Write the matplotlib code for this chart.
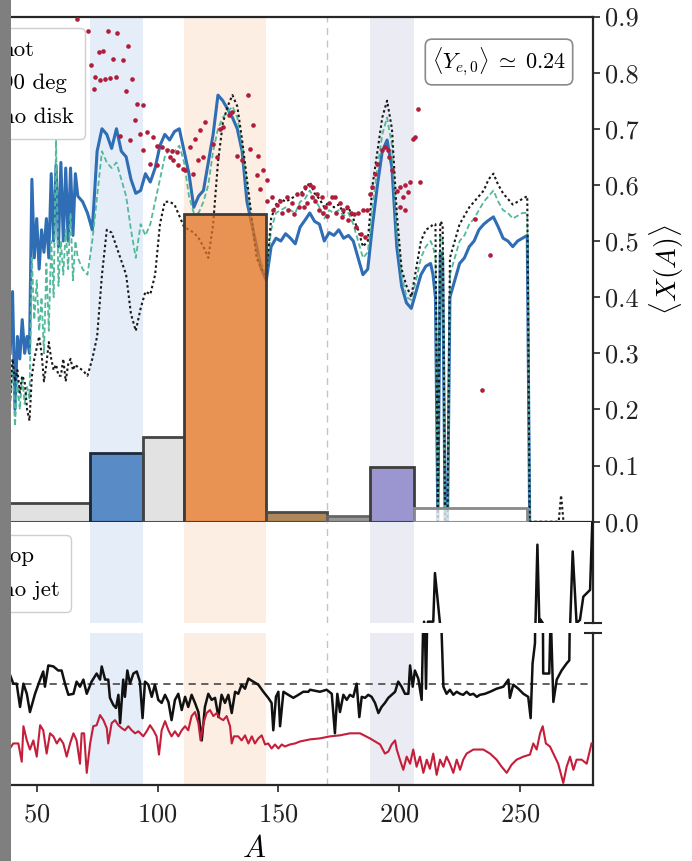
import matplotlib
matplotlib.use("Agg")
import matplotlib.pyplot as plt
from matplotlib.patches import Rectangle
from matplotlib.ticker import FormatStrFormatter
import numpy as np

plt.rcParams.update({
    "font.family": "serif",
    "font.serif": ["cmr10"],
    "mathtext.fontset": "cm",
    "axes.formatter.use_mathtext": True,
})

# ---------------- data ----------------
# mass-number grid of the abundance-weighted curves (top panel)
A_top = (list(range(39, 68)) + list(range(69, 214, 2))
         + [214, 215, 216, 217, 218, 219, 220, 221]
         + list(range(223, 254, 2)) + [254])

X_hot = [0.30, 0.41, 0.20, 0.33, 0.29, 0.36, 0.30, 0.33, 0.30, 0.61,
         0.47, 0.54, 0.45, 0.52, 0.48, 0.54, 0.47, 0.62, 0.50, 0.635,
         0.49, 0.64, 0.50, 0.63, 0.50, 0.63, 0.51, 0.62, 0.58,
         # 69 .. 213
         0.57, 0.55, 0.52, 0.66, 0.70, 0.69, 0.665, 0.70, 0.66, 0.65,
         0.61, 0.585, 0.59, 0.62, 0.605, 0.63, 0.67, 0.69, 0.68, 0.695,
         0.70, 0.66, 0.62, 0.56, 0.58, 0.59, 0.64, 0.69, 0.76, 0.75,
         0.735, 0.72, 0.70, 0.66, 0.57, 0.53, 0.49, 0.45, 0.43, 0.49,
         0.505, 0.50, 0.513, 0.505, 0.495, 0.525, 0.537, 0.55, 0.535, 0.53,
         0.50, 0.515, 0.51, 0.52, 0.505, 0.51, 0.50, 0.47, 0.44, 0.45,
         0.53, 0.60, 0.66, 0.68, 0.63, 0.49, 0.42, 0.39, 0.38, 0.41,
         0.44, 0.455, 0.46,
         # 214 .. 221
         0.44, 0.40, 0.0, 0.48, 0.47, 0.0, 0.0, 0.40,
         # 223 .. 253, 254
         0.43, 0.46, 0.47, 0.49, 0.50, 0.52, 0.53, 0.537, 0.543, 0.525,
         0.505, 0.50, 0.49, 0.50, 0.505, 0.51, 0.0]

X_90deg = [0.20, 0.28, 0.17, 0.25, 0.20, 0.26, 0.21, 0.24, 0.22, 0.47,
           0.36, 0.43, 0.34, 0.40, 0.30, 0.46, 0.34, 0.50, 0.40, 0.68,
           0.42, 0.50, 0.44, 0.52, 0.45, 0.55, 0.43, 0.50, 0.47,
           # 69 .. 213
           0.45, 0.44, 0.50, 0.58, 0.66, 0.64, 0.63, 0.64, 0.61, 0.58,
           0.52, 0.47, 0.53, 0.51, 0.53, 0.57, 0.61, 0.65, 0.665, 0.66,
           0.67, 0.64, 0.58, 0.55, 0.55, 0.57, 0.60, 0.66, 0.70, 0.72,
           0.73, 0.74, 0.72, 0.67, 0.60, 0.53, 0.48, 0.46, 0.44, 0.52,
           0.55, 0.555, 0.56, 0.555, 0.55, 0.57, 0.575, 0.59, 0.575, 0.56,
           0.54, 0.555, 0.55, 0.555, 0.545, 0.55, 0.53, 0.50, 0.47, 0.48,
           0.56, 0.63, 0.69, 0.72, 0.67, 0.52, 0.44, 0.40, 0.395, 0.43,
           0.47, 0.49, 0.50,
           # 214 .. 221
           0.49, 0.47, 0.0, 0.51, 0.50, 0.0, 0.0, 0.44,
           # 223 .. 253, 254
           0.47, 0.50, 0.51, 0.53, 0.54, 0.555, 0.57, 0.58, 0.59, 0.57,
           0.555, 0.55, 0.54, 0.545, 0.55, 0.55, 0.0]

A_nodisk = A_top + [266, 267, 268]
X_nodisk = [0.22, 0.29, 0.25, 0.27, 0.23, 0.26, 0.25, 0.20, 0.18, 0.26,
            0.29, 0.31, 0.33, 0.30, 0.25, 0.28, 0.32, 0.29, 0.27, 0.28,
            0.26, 0.26, 0.29, 0.25, 0.28, 0.29, 0.27, 0.28, 0.275,
            # 69 .. 213
            0.27, 0.26, 0.29, 0.33, 0.44, 0.52, 0.515, 0.49, 0.465, 0.44,
            0.37, 0.34, 0.38, 0.41, 0.405, 0.44, 0.53, 0.57, 0.57, 0.565,
            0.545, 0.525, 0.52, 0.515, 0.505, 0.49, 0.47, 0.53, 0.64, 0.71,
            0.74, 0.76, 0.74, 0.68, 0.61, 0.54, 0.47, 0.45, 0.44, 0.54,
            0.565, 0.575, 0.57, 0.575, 0.58, 0.585, 0.59, 0.605, 0.585, 0.575,
            0.56, 0.57, 0.56, 0.565, 0.55, 0.56, 0.54, 0.52, 0.49, 0.50,
            0.60, 0.66, 0.72, 0.75, 0.70, 0.55, 0.45, 0.42, 0.40, 0.45,
            0.50, 0.52, 0.525,
            # 214 .. 221
            0.53, 0.53, 0.0, 0.535, 0.53, 0.0, 0.0, 0.47,
            # 223 .. 253, 254
            0.50, 0.53, 0.545, 0.56, 0.57, 0.58, 0.59, 0.61, 0.62, 0.60,
            0.585, 0.575, 0.565, 0.57, 0.575, 0.58, 0.0,
            # 266 .. 268
            0.0, 0.047, 0.0]

# observed / reference points
A_obs = [66.7, 71.4, 79.6, 83.4, 87.7, 75.8, 77.4, 81.7, 85.8, 72.3,
         74.1, 76.2, 78.3, 80.3, 82.8, 89.6, 73.8, 86.8, 91.4, 93.9,
         90.7, 84.5, 88.6, 92.7, 95.5, 94.1, 98.2, 99.7, 101.7, 103.8,
         96.9, 99.7, 105.2, 106.5, 108.6, 110.7, 105.9, 107.9, 111.4, 114.8,
         113.4, 115.5, 117.6, 119.6, 116.9, 118.9, 123.1, 124.5, 125.9, 127.2,
         129.5, 131.0, 132.8, 134.8, 137.6, 139.6, 138.3, 141.7, 143.8, 141.0,
         145.2, 142.4, 145.2,
         147.3, 147.9, 149.5, 150.7, 151.5, 153.5, 154.0, 155.5, 156.5, 157.6,
         158.5, 159.7, 160.5, 161.0, 162.0, 163.1, 163.8, 164.5, 165.2, 165.9,
         166.8, 167.9, 168.6, 169.3, 170.3, 171.0, 172.4, 173.4, 174.0, 175.5,
         176.2, 176.9, 178.3, 179.0, 180.0, 181.1, 182.0, 183.1, 184.0, 185.2,
         186.5, 186.0,
         187.9, 188.6, 190.0, 190.7, 192.7, 194.1, 195.5, 195.8, 196.9, 198.9,
         200.3, 200.3, 201.5, 202.4, 203.6, 204.4, 205.8, 206.5, 207.9, 208.6,
         202.4, 231.3, 237.5, 234.4]
X_obs = [0.896, 0.874, 0.875, 0.871, 0.848, 0.836, 0.838, 0.825, 0.823, 0.813,
         0.792, 0.786, 0.788, 0.790, 0.793, 0.789, 0.770, 0.767, 0.745, 0.742,
         0.716, 0.688, 0.680, 0.691, 0.695, 0.662, 0.685, 0.670, 0.667, 0.662,
         0.638, 0.635, 0.650, 0.644, 0.635, 0.629, 0.661, 0.658, 0.626, 0.620,
         0.667, 0.682, 0.697, 0.712, 0.644, 0.650, 0.673, 0.650, 0.700, 0.703,
         0.725, 0.730, 0.652, 0.644, 0.760, 0.706, 0.664, 0.652, 0.626, 0.617,
         0.608, 0.593, 0.572,
         0.578, 0.556, 0.565, 0.572, 0.550, 0.578, 0.556, 0.567, 0.548, 0.584,
         0.560, 0.584, 0.560, 0.596, 0.567, 0.599, 0.578, 0.596, 0.572, 0.584,
         0.556, 0.578, 0.550, 0.561, 0.545, 0.567, 0.578, 0.578, 0.550, 0.567,
         0.543, 0.555, 0.560, 0.537, 0.550, 0.549, 0.525, 0.550, 0.513, 0.555,
         0.555, 0.507,
         0.584, 0.596, 0.620, 0.638, 0.662, 0.667, 0.662, 0.650, 0.626, 0.590,
         0.560, 0.596, 0.578, 0.600, 0.587, 0.605, 0.682, 0.685, 0.736, 0.605,
         0.555, 0.540, 0.475, 0.234]

# mass-weighted fractions per A-band (bin edges and heights)
band_edges = [25, 72, 94, 111, 145, 170, 188, 206, 253]
band_frac = [0.034, 0.123, 0.151, 0.549, 0.018, 0.010, 0.097, 0.024]
band_face = ["#d7d7d7", "#2a6ab6", "#d9d9d9", "#e27323",
             "#956023", "#737373", "#807ac3", "#ffffff"]
band_edge = ["#444444", "#1c2a3c", "#444444", "#3d3d3d",
             "#4a4a4a", "#666666", "#3d3d3d", "#8a8a8a"]

# ratio curves (bottom panel)
A_top_ratio = [38.9, 40.3, 41.7, 43.1, 44.5, 45.9, 47.2, 49.3, 51.4, 52.7,
               53.4, 54.8, 56.9, 58.9, 60.3, 61.7, 63.1, 65.2, 66.5, 67.9,
               69.3, 70.7, 72.7, 74.8, 76.2, 76.9, 78.3, 79.6, 80.3, 81.7,
               82.8, 83.8, 84.5, 85.8, 86.5, 87.5, 88.6, 90.0, 91.4, 92.7,
               93.8, 94.8, 96.2, 97.6, 98.9, 100.3, 101.7, 103.1, 104.5, 105.8,
               107.2, 108.6, 110.0, 111.4, 112.7, 114.1, 115.5, 116.9, 118.3, 119.6,
               121.0, 122.4, 123.8, 125.2, 126.5, 127.9, 129.3, 130.7, 132.1, 133.4,
               134.8, 136.2, 137.6, 139.6, 141.7, 143.8, 145.8, 147.2, 147.9, 149.0,
               150.0, 150.7, 152.1, 154.1, 156.2, 158.3, 160.3, 162.4, 163.1, 167.2,
               170.0, 172.1, 173.4, 174.4, 175.5, 176.9, 178.3, 179.6, 181.0, 182.4,
               183.5, 184.5, 185.9, 187.2, 188.6, 190.0, 191.4, 192.7, 194.1, 195.5,
               196.9, 198.3, 199.6, 201.0, 202.4, 203.8, 204.5, 205.6, 206.5, 207.9,
               209.3, 210.3, 211.1, 211.9, 214.1, 214.8, 216.9, 218.3, 219.6, 221.0,
               222.4, 223.8, 225.2, 226.5, 227.9, 229.3, 230.7, 232.1, 233.4, 235.5,
               237.6, 240.3, 243.1, 245.2, 245.8, 247.2, 249.3, 251.4, 253.4, 254.4,
               255.2, 256.2, 257.2, 258.0, 258.5, 259.4, 259.6, 261.0, 262.1, 262.7,
               263.8, 265.2, 267.2, 269.3, 270.4, 271.8, 273.4, 274.8, 276.2, 277.6,
               279.0, 280.0]
R_top = [1.09, 1.00, 1.00, 0.77, 1.00, 0.90, 0.72, 0.90, 1.04, 1.12,
         0.97, 1.18, 1.17, 1.13, 1.13, 1.00, 0.89, 0.90, 1.02, 0.97,
         1.04, 0.90, 1.02, 1.10, 1.04, 1.17, 1.04, 1.04, 0.86, 0.79,
         0.76, 0.89, 0.61, 1.04, 0.87, 1.13, 1.00, 1.10, 1.12, 1.02,
         0.66, 1.02, 0.99, 0.87, 0.99, 0.84, 0.81, 0.89, 0.82, 0.64,
         0.84, 0.90, 0.74, 0.87, 0.77, 0.89, 0.81, 0.72, 0.44, 0.77,
         0.90, 0.84, 0.86, 0.67, 0.89, 0.81, 0.89, 0.71, 0.92, 0.90,
         0.99, 0.95, 1.05, 1.02, 0.99, 0.92, 0.86, 0.81, 0.54, 0.87,
         0.92, 0.58, 0.92, 0.89, 0.86, 0.89, 0.92, 0.92, 0.94, 0.92,
         0.94, 0.90, 0.51, 0.90, 0.72, 0.89, 0.84, 0.89, 0.87, 1.00,
         0.67, 0.87, 0.86, 0.89, 0.87, 0.81, 0.71, 0.77, 0.81, 0.86,
         0.89, 0.92, 1.02, 0.97, 0.90, 0.90, 1.18, 0.97, 1.13, 1.05,
         0.84, 2.04, 0.95, 2.04, 2.04, 3.48, 1.99, 0.97, 0.90, 0.94,
         0.89, 0.92, 0.90, 0.89, 0.92, 0.89, 0.90, 0.87, 0.89, 0.90,
         0.92, 0.95, 0.97, 1.04, 0.86, 0.99, 0.95, 0.90, 0.87, 0.66,
         1.20, 1.40, 4.32, 2.00, 2.10, 2.00, 1.10, 1.10, 1.10, 1.70,
         0.82, 1.04, 1.13, 1.20, 1.23, 4.12, 2.00, 2.09, 2.78, 2.88,
         2.98, 5.20]

A_nojet = [38.9, 40.3, 42.4, 43.8, 44.5, 45.9, 47.2, 48.6, 50.0, 51.4,
           52.7, 54.1, 55.5, 56.9, 58.3, 59.6, 61.0, 62.4, 63.8, 65.2,
           66.5, 67.9, 68.6, 69.6, 70.7, 72.1, 73.4, 74.8, 76.2, 77.6,
           79.0, 79.6, 81.0, 82.4, 83.8, 85.2, 86.5, 87.9, 89.3, 90.7,
           92.1, 94.1, 95.5, 96.9, 98.3, 99.6, 100.6, 101.7, 103.1, 104.5,
           105.8, 107.2, 108.6, 110.0, 111.4, 112.7, 114.1, 115.5, 116.9, 117.8,
           119.0, 120.3, 121.7, 123.1, 124.5, 125.8, 127.2, 128.6, 130.0, 130.7,
           131.6, 133.4, 134.8, 136.2, 137.6, 139.0, 140.3, 141.7, 143.1, 144.5,
           145.8, 147.2, 148.6, 150.0, 151.4, 152.7, 154.8, 156.9, 159.0, 161.0,
           163.1, 167.2, 171.4, 175.5, 179.6, 183.8, 187.9, 192.1, 194.1, 195.5,
           196.9, 198.3, 199.0, 200.3, 201.7, 203.1, 204.5, 205.8, 207.2, 208.6,
           210.0, 211.4, 212.7, 214.1, 215.5, 216.9, 218.3, 219.6, 221.0, 222.4,
           223.8, 225.2, 226.5, 227.9, 230.7, 234.8, 237.6, 240.3, 242.4, 244.5,
           246.5, 248.6, 251.4, 254.1, 255.5, 256.9, 258.3, 259.4, 260.7, 262.4,
           263.8, 265.8, 267.9, 269.3, 270.7, 272.1, 273.4, 275.5, 277.6, 279.6]
R_nojet = [0.36, 0.41, 0.41, 0.23, 0.58, 0.44, 0.35, 0.44, 0.28, 0.59,
           0.54, 0.31, 0.51, 0.48, 0.41, 0.46, 0.41, 0.28, 0.41, 0.51,
           0.44, 0.21, 0.51, 0.51, 0.12, 0.41, 0.58, 0.59, 0.69, 0.64,
           0.56, 0.41, 0.61, 0.64, 0.59, 0.56, 0.54, 0.58, 0.54, 0.51,
           0.53, 0.48, 0.53, 0.59, 0.54, 0.48, 0.30, 0.54, 0.63, 0.54,
           0.48, 0.53, 0.48, 0.54, 0.58, 0.54, 0.68, 0.72, 0.61, 0.44,
           0.61, 0.71, 0.74, 0.68, 0.71, 0.66, 0.64, 0.68, 0.58, 0.41,
           0.48, 0.48, 0.44, 0.49, 0.41, 0.48, 0.41, 0.46, 0.49, 0.40,
           0.41, 0.36, 0.40, 0.36, 0.40, 0.38, 0.40, 0.41, 0.43, 0.44,
           0.45, 0.46, 0.48, 0.49, 0.51, 0.51, 0.46, 0.40, 0.31, 0.33,
           0.40, 0.44, 0.35, 0.25, 0.15, 0.28, 0.21, 0.35, 0.18, 0.28,
           0.12, 0.25, 0.16, 0.31, 0.10, 0.25, 0.18, 0.28, 0.21, 0.12,
           0.25, 0.15, 0.25, 0.31, 0.35, 0.35, 0.31, 0.25, 0.18, 0.12,
           0.20, 0.25, 0.28, 0.30, 0.41, 0.35, 0.51, 0.58, 0.41, 0.38,
           0.31, 0.21, 0.02, 0.18, 0.28, 0.15, 0.25, 0.25, 0.21, 0.41]

shade_bands = [(72, 94, "#e5edf8"), (111, 145, "#fdeee3"), (188, 206, "#ebebf4")]
xticks = [50, 100, 150, 200, 250]
yticks_top = [0.0, 0.1, 0.2, 0.3, 0.4, 0.5, 0.6, 0.7, 0.8, 0.9]

# ---------------- layout ----------------
W, H = 692, 861
fig = plt.figure(figsize=(W / 100, H / 100), dpi=100)


def px_box(x0, y0, x1, y1):
    return [x0 / W, 1 - y1 / H, (x1 - x0) / W, (y1 - y0) / H]


XL, XR = -84.1, 592.5
ax_top = fig.add_axes(px_box(XL, 16.5, XR, 521.7))
ax_hi = fig.add_axes(px_box(XL, 521.7, XR, 623.0), sharex=ax_top)
ax_lo = fig.add_axes(px_box(XL, 633.0, XR, 785.0), sharex=ax_top)

spine_c = "#262626"
for ax in (ax_top, ax_hi, ax_lo):
    ax.set_xlim(0, 280)
    for a0, a1, c in shade_bands:
        ax.axvspan(a0, a1, color=c, lw=0, zorder=0)
    ax.axvline(170, color="#c4c4c4", lw=1.0, ls=(0, (5, 4)), zorder=1)
    for s in ax.spines.values():
        s.set_color(spine_c)
        s.set_linewidth(1.6)
    ax.spines["left"].set_visible(False)

# ---------------- top panel ----------------
widths = np.diff(band_edges)
for x0, w, h, fc, ec in zip(band_edges[:-1], widths, band_frac, band_face, band_edge):
    rgba = matplotlib.colors.to_rgba(fc, 0.75)
    ax_top.bar(x0, h, width=w, align="edge", facecolor=rgba,
               edgecolor=ec, linewidth=2.0, zorder=3)

l_hot, = ax_top.plot(A_top, X_hot, color="#2f6db5", lw=2.2, zorder=2)
l_90, = ax_top.plot(A_top, X_90deg, color="#52b99b", lw=1.3,
                    ls=(0, (3, 1.6)), zorder=2)
l_nd, = ax_top.plot(A_nodisk, X_nodisk, color="#1a1a1a", lw=1.5,
                    ls=(0, (1.2, 1.3)), zorder=2)
ax_top.scatter(A_obs, X_obs, s=11, color="#b01c3a", lw=0, zorder=4)

ax_top.set_ylim(0, 0.9)
ax_top.yaxis.tick_right()
ax_top.yaxis.set_label_position("right")
ax_top.set_yticks(yticks_top)
ax_top.yaxis.set_major_formatter(FormatStrFormatter("%.1f"))
ax_top.tick_params(axis="y", direction="out", length=5, width=1.2,
                   labelsize=19, pad=4, colors=spine_c, labelcolor="#222222")
ax_top.tick_params(axis="x", bottom=False, labelbottom=False)
ax_top.set_ylabel(r"$\langle X(A)\rangle$", fontsize=20, labelpad=6)

fig.text(499 / W, 1 - 62 / H, r"$\langle Y_{e,0}\rangle\;\simeq\;0.24$",
         ha="center", va="center", fontsize=16,
         bbox=dict(boxstyle="round,pad=0.3", fc="white", ec="#8a8a8a", lw=1.2))

# ---------------- bottom (broken) panel ----------------
for ax in (ax_hi, ax_lo):
    ax.plot(A_top_ratio, R_top, color="#111111", lw=1.8, zorder=3)
    l_nj, = ax.plot(A_nojet, R_nojet, color="#c41e3a", lw=1.5, zorder=3)
    ax.tick_params(axis="y", left=False, right=False, labelleft=False)

ax_lo.axhline(1.0, color="#555555", lw=1.3, ls=(0, (4, 3)), zorder=2)
ax_hi.set_ylim(2.0, 5.0)
ax_lo.set_ylim(0.0, 1.5)
ax_hi.spines["top"].set_visible(False)
ax_hi.spines["bottom"].set_visible(False)
ax_lo.spines["top"].set_visible(False)
ax_hi.tick_params(axis="x", bottom=False, labelbottom=False)
ax_lo.set_xticks(xticks)
ax_lo.tick_params(axis="x", direction="out", length=5, width=1.2,
                  labelsize=19, pad=8, colors=spine_c, labelcolor="#222222")
ax_lo.set_xlabel(r"$A$", fontsize=22, labelpad=6)

# break marks on the right spine
ax_hi.plot([1], [0], transform=ax_hi.transAxes, marker="_", ms=12.5,
           mew=1.5, color=spine_c, clip_on=False, zorder=5)
ax_lo.plot([1], [1], transform=ax_lo.transAxes, marker="_", ms=12.5,
           mew=1.5, color=spine_c, clip_on=False, zorder=5)

# ---------------- legends ----------------
leg_kw = dict(loc="upper right", borderaxespad=0, fontsize=16.5,
              framealpha=1.0, edgecolor="#cfcfcf", fancybox=True)
fig.legend([l_hot, l_90, l_nd], ["hot", "90 deg", "no disk"],
           bbox_to_anchor=(85 / W, 1 - 28 / H), labelspacing=0.6,
           borderpad=0.5, **leg_kw)
bot_black = matplotlib.lines.Line2D([], [], color="#111111", lw=1.8)
fig.legend([bot_black, l_nj], ["top", "no jet"],
           bbox_to_anchor=(71 / W, 1 - 535 / H), labelspacing=0.6,
           borderpad=0.5, **leg_kw)

# grey margin strip on the left edge
fig.add_artist(Rectangle((0, 0), 11 / W, 1, transform=fig.transFigure,
                         facecolor="#7f7f7f", edgecolor="none", zorder=50))

fig.savefig("out.png", dpi=100)
